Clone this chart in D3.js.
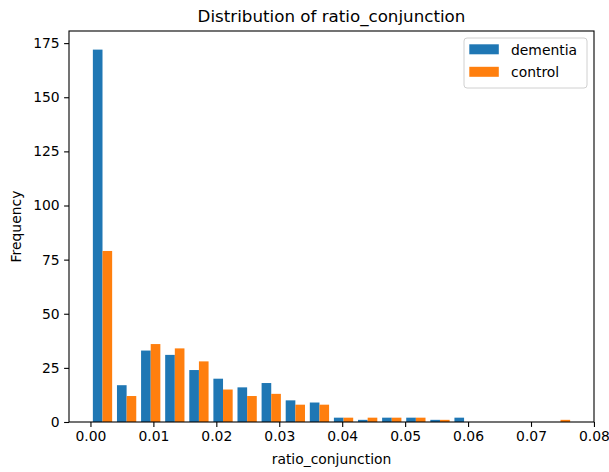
<!DOCTYPE html>
<html>
<head>
<meta charset="utf-8">
<script src="https://cdn.jsdelivr.net/npm/d3@7"></script>
<style>
  html, body { margin: 0; padding: 0; background: #fff; }
  svg { display: block; font-family: "DejaVu Sans", sans-serif; }
</style>
</head>
<body>
<svg id="chart" width="609" height="472"></svg>
<script>
// Histogram of ratio_conjunction: 20 shared bins between binMin and binMax
const binMin = 0;
const binMax = 0.0766;
const binCount = 20;
const seriesNames = ["dementia", "control"];
const dementiaCounts = [172, 17, 33, 31, 24, 20, 16, 18, 10, 9, 2, 1, 2, 2, 1, 2, 0, 0, 0, 0];
const controlCounts  = [79, 12, 36, 34, 28, 15, 12, 13, 8, 8, 2, 2, 2, 2, 1, 0, 0, 0, 0, 1];
const xTickValues = [0, 0.01, 0.02, 0.03, 0.04, 0.05, 0.06, 0.07, 0.08];
const yTickValues = [0, 25, 50, 75, 100, 125, 150, 175];
const colors = ["#1f77b4", "#ff7f0e"];

const svg = d3.select("#chart");
const plot = { left: 69, right: 594, top: 31, bottom: 422 };

const binWidth = (binMax - binMin) / binCount;
const series = [dementiaCounts, controlCounts];

// side-by-side bars: 80% of each bin shared by the series, 10% gap on each side
const barW = binWidth * 0.8 / series.length;
const bars = [];
series.forEach((counts, s) => {
  counts.forEach((c, i) => {
    const x0 = binMin + i * binWidth + 0.1 * binWidth + s * barW;
    bars.push({ s, x0, x1: x0 + barW, count: c });
  });
});

// axis limits with 5% margins around the bar extent
const dataLo = d3.min(bars, d => d.x0), dataHi = d3.max(bars, d => d.x1);
const pad = 0.05 * (dataHi - dataLo);
const x = d3.scaleLinear().domain([dataLo - pad, dataHi + pad]).range([plot.left, plot.right]);
const yMax = d3.max(bars, d => d.count) * 1.05;
const y = d3.scaleLinear().domain([0, yMax]).range([plot.bottom, plot.top]);

svg.append("g").selectAll("rect")
  .data(bars.filter(d => d.count > 0))
  .join("rect")
  .attr("x", d => x(d.x0))
  .attr("width", d => x(d.x1) - x(d.x0))
  .attr("y", d => y(d.count))
  .attr("height", d => y(0) - y(d.count))
  .attr("fill", d => colors[d.s]);

// axes
const tickFont = "13.9px";
const xAxis = svg.append("g")
  .attr("transform", `translate(0,${plot.bottom})`)
  .call(d3.axisBottom(x).tickValues(xTickValues).tickFormat(d3.format(".2f")).tickSize(4.9).tickPadding(4.4));
const yAxis = svg.append("g")
  .attr("transform", `translate(${plot.left},0)`)
  .call(d3.axisLeft(y).tickValues(yTickValues).tickFormat(d3.format("d")).tickSize(4.9).tickPadding(4.4));
[xAxis, yAxis].forEach(g => {
  g.select(".domain").remove();
  g.selectAll("line").attr("stroke", "#000").attr("stroke-width", 1.1);
  g.selectAll("text").attr("fill", "#000").style("font-size", tickFont).style("font-family", "DejaVu Sans");
});

// frame
svg.append("rect")
  .attr("x", plot.left).attr("y", plot.top)
  .attr("width", plot.right - plot.left).attr("height", plot.bottom - plot.top)
  .attr("fill", "none").attr("stroke", "#000").attr("stroke-width", 1.1);

// labels
svg.append("text")
  .attr("x", (plot.left + plot.right) / 2).attr("y", 22)
  .attr("text-anchor", "middle").style("font-size", "16.7px")
  .text("Distribution of ratio_conjunction");
svg.append("text")
  .attr("x", (plot.left + plot.right) / 2).attr("y", 464)
  .attr("text-anchor", "middle").style("font-size", "13.9px")
  .text("ratio_conjunction");
svg.append("text")
  .attr("transform", `translate(21,${(plot.top + plot.bottom) / 2}) rotate(-90)`)
  .attr("text-anchor", "middle").style("font-size", "13.9px")
  .text("Frequency");

// legend
const legW = 123, legH = 50;
const legX = plot.right - 7 - legW, legY = plot.top + 7;
const legend = svg.append("g");
legend.append("rect")
  .attr("x", legX).attr("y", legY).attr("width", legW).attr("height", legH)
  .attr("rx", 3).attr("fill", "#fff").attr("fill-opacity", 0.8)
  .attr("stroke", "#d0d0d0").attr("stroke-width", 1);
seriesNames.forEach((name, i) => {
  const cy = legY + 11.3 + i * 22.5;
  legend.append("rect")
    .attr("x", legX + 5.3).attr("y", cy - 5)
    .attr("width", 29.5).attr("height", 10)
    .attr("fill", colors[i]);
  legend.append("text")
    .attr("x", legX + 47).attr("y", cy + 5.5)
    .style("font-size", "13.9px")
    .text(name);
});
</script>
</body>
</html>
